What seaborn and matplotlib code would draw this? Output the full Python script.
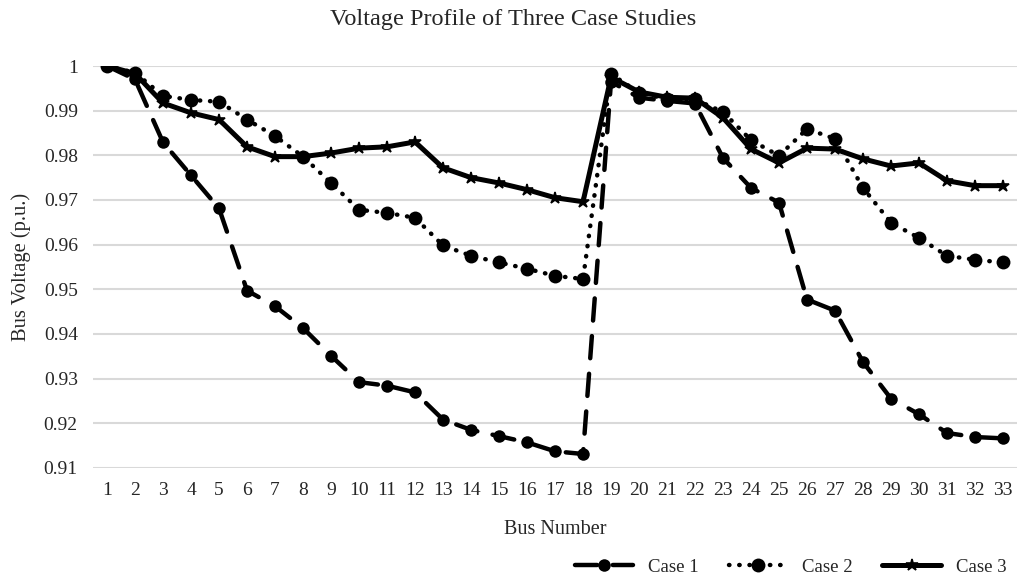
import numpy as np
import pandas as pd
import seaborn as sns
import matplotlib.pyplot as plt
from matplotlib.ticker import FuncFormatter

# bus voltage (p.u.)
buses = list(range(1, 34))
case1 = [1.0, 0.9970, 0.9829, 0.9755, 0.9681, 0.9497, 0.9462, 0.9413, 0.9351, 0.9292,
         0.9284, 0.9269, 0.9208, 0.9185, 0.9171, 0.9157, 0.9137, 0.9131, 0.9965, 0.9929,
         0.9922, 0.9916, 0.9794, 0.9727, 0.9694, 0.9477, 0.9452, 0.9337, 0.9255, 0.9220,
         0.9178, 0.9169, 0.9166]
case2 = [1.0, 0.9985, 0.9933, 0.9924, 0.9920, 0.9880, 0.9843, 0.9797, 0.9738, 0.9678,
         0.9671, 0.9660, 0.9598, 0.9575, 0.9560, 0.9546, 0.9530, 0.9523, 0.9982, 0.9940,
         0.9926, 0.9925, 0.9897, 0.9834, 0.9799, 0.9859, 0.9837, 0.9727, 0.9649, 0.9615,
         0.9575, 0.9566, 0.9560]
case3 = [1.0, 0.9983, 0.9917, 0.9895, 0.9880, 0.9819, 0.9797, 0.9797, 0.9805, 0.9816,
         0.9819, 0.9830, 0.9772, 0.9750, 0.9738, 0.9723, 0.9705, 0.9696, 0.9975, 0.9942,
         0.9930, 0.9928, 0.9884, 0.9814, 0.9783, 0.9816, 0.9814, 0.9792, 0.9776, 0.9783,
         0.9743, 0.9732, 0.9732]

sns.set_theme(style="white")
plt.rcParams['font.family'] = ['Liberation Serif', 'DejaVu Serif']
txt = "#262626"

fig, ax = plt.subplots(figsize=(10.17, 5.79), dpi=100)
fig.subplots_adjust(left=0.0915, right=1.0, top=0.886, bottom=0.192)

sns.lineplot(x=buses, y=case1, ax=ax, color="black", label="Case 1",
             linewidth=3.2, dashes=(5, 3.5), dash_capstyle="round",
             marker="o", markersize=9, markeredgewidth=0)
sns.lineplot(x=buses, y=case2, ax=ax, color="black", label="Case 2",
             linewidth=3.2, dashes=(0.1, 2.2), dash_capstyle="round",
             marker="o", markersize=10, markeredgewidth=0)
sns.lineplot(x=buses, y=case3, ax=ax, color="black", label="Case 3",
             linewidth=3.6, marker="*", markersize=9,
             markeredgewidth=1.2, markeredgecolor="black", markerfacecolor="black")

ax.set_xlim(0.5, 33.5)
ax.set_ylim(0.91, 1.0)
ax.set_xticks(buses)
ax.set_yticks(np.arange(0.91, 1.0001, 0.01))
ax.yaxis.set_major_formatter(FuncFormatter(lambda v, p: f"{v:.2f}".rstrip("0").rstrip(".")))
ax.grid(axis="y", color="#d9d9d9", linewidth=1.5)
ax.set_axisbelow(True)
for s in ax.spines.values():
    s.set_visible(False)
ax.tick_params(axis="both", length=0, labelsize=14, colors=txt)
ax.tick_params(axis="x", pad=10)
ax.tick_params(axis="y", pad=11)

fig.text(0.505, 0.966, "Voltage Profile of Three Case Studies", fontsize=17.5,
         color=txt, ha="center", va="center")
ax.set_xlabel("Bus Number", fontsize=14.5, color=txt)
ax.set_ylabel("Bus Voltage (p.u.)", fontsize=14.8, color=txt)
ax.xaxis.set_label_coords(0.5, -0.13)
ax.yaxis.set_label_coords(-0.067, 0.5)

ax.legend_.remove()
h, l = ax.get_legend_handles_labels()
fig.legend(h, l, loc="center right", bbox_to_anchor=(1.006, 0.02), ncol=3, frameon=False,
           fontsize=13.5, handlelength=3.1, columnspacing=1.6, handletextpad=0.8)

fig.savefig("out.png", dpi=100)
